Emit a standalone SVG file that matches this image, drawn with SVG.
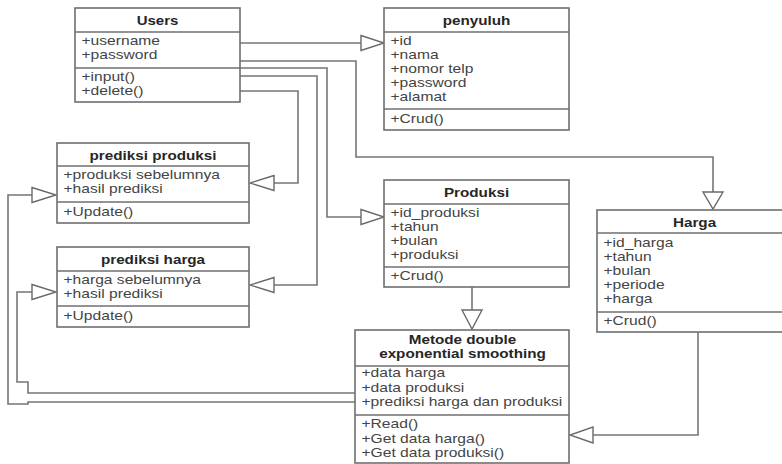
<svg xmlns="http://www.w3.org/2000/svg" width="782" height="464" viewBox="0 0 782 464">
  <style>
    .box { fill: #ffffff; stroke: #6f6f6f; stroke-width: 1.6; }
    .div { stroke: #6f6f6f; stroke-width: 1.6; }
    .title { font-family: "Liberation Sans", Arial, sans-serif; font-size: 12.5px; font-weight: bold; fill: #262626; text-anchor: middle; }
    .attr { font-family: "Liberation Sans", Arial, sans-serif; font-size: 12.5px; fill: #444444; }
    .wire { fill: none; stroke: #767676; stroke-width: 1.6; }
    .head { fill: #ffffff; stroke: #6a6a6a; stroke-width: 1.4; stroke-linejoin: miter; }
  </style>

  <rect width="782" height="464" fill="#ffffff"/>

  <!-- connectors (generalisation arrows, hollow triangles) -->
  <g id="connectors">
    <!-- Users -> penyuluh -->
    <path class="wire" d="M240,43 H361"/>
    <polygon class="head" points="361,35.5 384,43 361,50.5"/>
    <!-- Users -> Harga -->
    <path class="wire" d="M240,61 H356 V157 H713 V192"/>
    <polygon class="head" points="703,192 723,192 713,209"/>
    <!-- Users -> Produksi -->
    <path class="wire" d="M240,68 H327 V217 H361"/>
    <polygon class="head" points="361,209.5 384,217 361,224.5"/>
    <!-- Users -> prediksi harga -->
    <path class="wire" d="M240,76 H317 V285 H274"/>
    <polygon class="head" points="274,277.5 250,285 274,292.5"/>
    <!-- Users -> prediksi produksi -->
    <path class="wire" d="M240,91 H298 V183 H274"/>
    <polygon class="head" points="274,175.5 250,183 274,190.5"/>
    <!-- Produksi -> Metode -->
    <path class="wire" d="M472,287 V310"/>
    <polygon class="head" points="462,310 482,310 472,329"/>
    <!-- Harga -> Metode -->
    <path class="wire" d="M698,332 V435 H593"/>
    <polygon class="head" points="593,427 593,443 570,435"/>
    <!-- Metode -> prediksi harga -->
    <path class="wire" d="M355,393 H28 V382 H17 V292 H32"/>
    <polygon class="head" points="32,284.5 56,292 32,299.5"/>
    <!-- Metode -> prediksi produksi -->
    <path class="wire" d="M355,402 H28 V404 H8 V195 H32"/>
    <polygon class="head" points="32,187.5 56,195 32,202.5"/>
  </g>

  <!-- Users -->
  <g id="users">
    <rect class="box" x="75" y="8" width="165" height="94"/>
    <line class="div" x1="75" y1="32" x2="240" y2="32"/>
    <line class="div" x1="75" y1="68" x2="240" y2="68"/>
    <g transform="translate(157.5,0) scale(1.2,1)">
      <text class="title" x="0" y="25">Users</text>
    </g>
    <g transform="translate(81.5,0) scale(1.25,1)">
      <text class="attr" x="0" y="45.5">+username</text>
      <text class="attr" x="0" y="59.5">+password</text>
      <text class="attr" x="0" y="81.5">+input()</text>
      <text class="attr" x="0" y="95.5">+delete()</text>
    </g>
  </g>

  <!-- penyuluh -->
  <g id="penyuluh">
    <rect class="box" x="384" y="8" width="185" height="122"/>
    <line class="div" x1="384" y1="32" x2="569" y2="32"/>
    <line class="div" x1="384" y1="109" x2="569" y2="109"/>
    <g transform="translate(476.5,0) scale(1.22,1)">
      <text class="title" x="0" y="25">penyuluh</text>
    </g>
    <g transform="translate(390.5,0) scale(1.25,1)">
      <text class="attr" x="0" y="45.5">+id</text>
      <text class="attr" x="0" y="59.5">+nama</text>
      <text class="attr" x="0" y="73.5">+nomor telp</text>
      <text class="attr" x="0" y="87.5">+password</text>
      <text class="attr" x="0" y="101.5">+alamat</text>
      <text class="attr" x="0" y="123">+Crud()</text>
    </g>
  </g>

  <!-- prediksi produksi -->
  <g id="prediksi-produksi">
    <rect class="box" x="57" y="143" width="192" height="80"/>
    <line class="div" x1="57" y1="166" x2="249" y2="166"/>
    <line class="div" x1="57" y1="202" x2="249" y2="202"/>
    <g transform="translate(153,0) scale(1.22,1)">
      <text class="title" x="0" y="160">prediksi produksi</text>
    </g>
    <g transform="translate(63.5,0) scale(1.25,1)">
      <text class="attr" x="0" y="179.5">+produksi sebelumnya</text>
      <text class="attr" x="0" y="193.5">+hasil prediksi</text>
      <text class="attr" x="0" y="216">+Update()</text>
    </g>
  </g>

  <!-- prediksi harga -->
  <g id="prediksi-harga">
    <rect class="box" x="57" y="247" width="192" height="80"/>
    <line class="div" x1="57" y1="271" x2="249" y2="271"/>
    <line class="div" x1="57" y1="306" x2="249" y2="306"/>
    <g transform="translate(153,0) scale(1.22,1)">
      <text class="title" x="0" y="264">prediksi harga</text>
    </g>
    <g transform="translate(63.5,0) scale(1.25,1)">
      <text class="attr" x="0" y="284.5">+harga sebelumnya</text>
      <text class="attr" x="0" y="298.5">+hasil prediksi</text>
      <text class="attr" x="0" y="320">+Update()</text>
    </g>
  </g>

  <!-- Produksi -->
  <g id="produksi">
    <rect class="box" x="384" y="180" width="185" height="107"/>
    <line class="div" x1="384" y1="204" x2="569" y2="204"/>
    <line class="div" x1="384" y1="267" x2="569" y2="267"/>
    <g transform="translate(476.5,0) scale(1.22,1)">
      <text class="title" x="0" y="197">Produksi</text>
    </g>
    <g transform="translate(390.5,0) scale(1.25,1)">
      <text class="attr" x="0" y="217">+id_produksi</text>
      <text class="attr" x="0" y="231">+tahun</text>
      <text class="attr" x="0" y="245">+bulan</text>
      <text class="attr" x="0" y="259">+produksi</text>
      <text class="attr" x="0" y="280.5">+Crud()</text>
    </g>
  </g>

  <!-- Harga (runs past the right edge) -->
  <g id="harga">
    <rect class="box" x="597" y="210" width="200" height="122"/>
    <line class="div" x1="597" y1="233" x2="797" y2="233"/>
    <line class="div" x1="597" y1="312" x2="797" y2="312"/>
    <g transform="translate(694.5,0) scale(1.22,1)">
      <text class="title" x="0" y="227">Harga</text>
    </g>
    <g transform="translate(603.5,0) scale(1.25,1)">
      <text class="attr" x="0" y="247">+id_harga</text>
      <text class="attr" x="0" y="261">+tahun</text>
      <text class="attr" x="0" y="275">+bulan</text>
      <text class="attr" x="0" y="289">+periode</text>
      <text class="attr" x="0" y="303">+harga</text>
      <text class="attr" x="0" y="325">+Crud()</text>
    </g>
  </g>

  <!-- Metode double exponential smoothing -->
  <g id="metode">
    <rect class="box" x="355" y="330" width="214" height="133"/>
    <line class="div" x1="355" y1="366" x2="569" y2="366"/>
    <line class="div" x1="355" y1="415" x2="569" y2="415"/>
    <g transform="translate(462.5,0) scale(1.27,1)">
      <text class="title" x="0" y="344" style="font-size:12px">Metode double</text>
      <text class="title" x="0" y="358" style="font-size:12px">exponential smoothing</text>
    </g>
    <g transform="translate(361.5,0) scale(1.25,1)">
      <text class="attr" x="0" y="377.5">+data harga</text>
      <text class="attr" x="0" y="392">+data produksi</text>
      <text class="attr" x="0" y="406">+prediksi harga dan produksi</text>
      <text class="attr" x="0" y="428.5">+Read()</text>
      <text class="attr" x="0" y="443">+Get data harga()</text>
      <text class="attr" x="0" y="457.5">+Get data produksi()</text>
    </g>
  </g>
</svg>
